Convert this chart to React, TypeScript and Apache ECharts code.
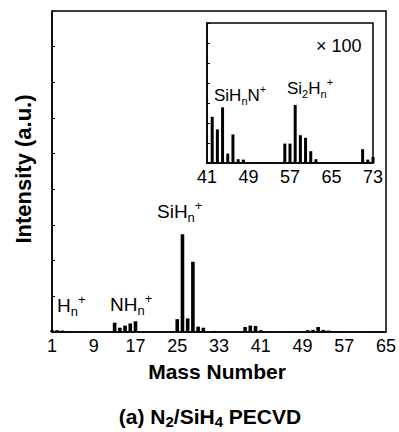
import React, { useEffect, useRef } from 'react';
import * as echarts from 'echarts';

// Main spectrum (mass number vs. intensity, a.u.)
const mainMass = [1, 2, 3, 13, 14, 15, 16, 17, 25, 26, 27, 28, 29, 30, 32, 38, 39, 40, 41, 50, 51, 52, 53, 54];
const mainIntensity = [0.05, 0.05, 0.04, 0.26, 0.12, 0.18, 0.24, 0.3, 0.36, 2.74, 0.38, 1.97, 0.15, 0.12, 0.03, 0.14, 0.18, 0.17, 0.05, 0.05, 0.06, 0.14, 0.06, 0.04];
// Inset spectrum (x100)
const insetMass = [42, 43, 44, 45, 46, 47, 48, 56, 57, 58, 59, 60, 61, 62, 71, 72, 73];
const insetIntensity = [2.31, 1.68, 2.78, 0.47, 1.43, 0.19, 0.17, 0.97, 0.97, 2.9, 1.39, 1.26, 0.59, 0.19, 0.69, 0.17, 0.3];
// Axis tick labels
const mainTicks = [1, 9, 17, 25, 33, 41, 49, 57, 65];
const insetTicks = [41, 49, 57, 65, 73];
const mainYMax = 9;
const insetYMax = 7;

const FONT = '"Liberation Sans", Arial, Helvetica, sans-serif';

const rich = (size: number, sub: number) => ({
  m: { fontSize: size, fontFamily: FONT, color: '#000', lineHeight: size + 6, verticalAlign: 'middle' },
  s: { fontSize: sub, fontFamily: FONT, color: '#000', lineHeight: sub + 1, verticalAlign: 'bottom' },
  p: { fontSize: sub, fontFamily: FONT, color: '#000', lineHeight: sub, verticalAlign: 'top' },
});

export default function App() {
  const ref = useRef<HTMLDivElement>(null);
  useEffect(() => {
    document.body.style.margin = '0';
    const chart = echarts.init(ref.current!, null, { renderer: 'svg' });
    const axisLabelStyle = { color: '#000', fontSize: 18, fontFamily: FONT };
    chart.setOption({
      animation: false,
      backgroundColor: '#fff',
      grid: [
        { left: 52, top: 11, width: 334, height: 321, show: true, borderColor: '#000', borderWidth: 1.5, backgroundColor: 'transparent' },
        { left: 207, top: 23, width: 166, height: 140, show: true, borderColor: '#000', borderWidth: 1.5, backgroundColor: '#fff' },
      ],
      xAxis: [
        {
          gridIndex: 0, type: 'value', min: mainTicks[0], max: mainTicks[mainTicks.length - 1], interval: mainTicks[1] - mainTicks[0],
          axisLine: { show: true, lineStyle: { color: '#000', width: 1.5 } },
          axisTick: { show: false }, splitLine: { show: false },
          axisLabel: { ...axisLabelStyle, margin: 5 },
        },
        {
          gridIndex: 1, type: 'value', min: insetTicks[0], max: insetTicks[insetTicks.length - 1], interval: insetTicks[1] - insetTicks[0],
          axisLine: { show: true, lineStyle: { color: '#000', width: 1.5 } },
          axisTick: { show: false }, splitLine: { show: false },
          axisLabel: { ...axisLabelStyle, margin: 5 },
        },
      ],
      yAxis: [
        {
          gridIndex: 0, type: 'value', min: 0, max: mainYMax, interval: 1,
          axisLine: { show: true, lineStyle: { color: '#000', width: 1.5 } },
          axisTick: { show: true, inside: true, length: 3, lineStyle: { color: '#000' } },
          axisLabel: { show: false }, splitLine: { show: false },
        },
        {
          gridIndex: 1, type: 'value', min: 0, max: insetYMax, interval: 1,
          axisLine: { show: true, lineStyle: { color: '#000', width: 1.5 } },
          axisTick: { show: true, inside: true, length: 3, lineStyle: { color: '#000' } },
          axisLabel: { show: false }, splitLine: { show: false },
        },
      ],
      series: [
        {
          type: 'bar', xAxisIndex: 0, yAxisIndex: 0, barWidth: 3.6,
          itemStyle: { color: '#000' },
          data: mainMass.map((m, i) => [m, mainIntensity[i]]),
        },
        {
          type: 'bar', xAxisIndex: 1, yAxisIndex: 1, barWidth: 3,
          itemStyle: { color: '#000' },
          data: insetMass.map((m, i) => [m, insetIntensity[i]]),
        },
      ],
      graphic: [
        {
          type: 'text', x: 23, y: 169, rotation: Math.PI / 2,
          style: { text: 'Intensity (a.u.)', font: `bold 22px ${FONT}`, fill: '#000', align: 'center', verticalAlign: 'middle' },
        },
        {
          type: 'text', x: 217, y: 371,
          style: { text: 'Mass Number', font: `bold 21px ${FONT}`, fill: '#000', align: 'center', verticalAlign: 'middle' },
        },
        {
          type: 'text', x: 210, y: 416,
          style: {
            text: '{m|(a) N}{s|2}{m|/SiH}{s|4}{m| PECVD}', align: 'center', verticalAlign: 'middle',
            rich: {
              m: { fontSize: 21, fontWeight: 'bold', fontFamily: FONT, color: '#000', lineHeight: 26, verticalAlign: 'middle' },
              s: { fontSize: 15, fontWeight: 'bold', fontFamily: FONT, color: '#000', lineHeight: 15, verticalAlign: 'bottom' },
            },
          },
        },
        {
          type: 'text', x: 57, y: 305,
          style: { text: '{m|H}{s|n}{p|+}', align: 'left', verticalAlign: 'middle', rich: rich(19, 13) },
        },
        {
          type: 'text', x: 110, y: 304,
          style: { text: '{m|NH}{s|n}{p|+}', align: 'left', verticalAlign: 'middle', rich: rich(19, 13) },
        },
        {
          type: 'text', x: 157, y: 211,
          style: { text: '{m|SiH}{s|n}{p|+}', align: 'left', verticalAlign: 'middle', rich: rich(19, 13) },
        },
        {
          type: 'text', x: 316, y: 46,
          style: { text: '× 100', font: `18px ${FONT}`, fill: '#000', align: 'left', verticalAlign: 'middle' },
        },
        {
          type: 'text', x: 214, y: 95,
          style: { text: '{m|SiH}{s|n}{m|N}{p|+}', align: 'left', verticalAlign: 'middle', rich: rich(17, 11) },
        },
        {
          type: 'text', x: 287, y: 88,
          style: { text: '{m|Si}{s|2}{m|H}{s|n}{p|+}', align: 'left', verticalAlign: 'middle', rich: rich(17, 11) },
        },
      ],
    });
    return () => chart.dispose();
  }, []);
  return <div ref={ref} style={{ width: 399, height: 432 }} />;
}
